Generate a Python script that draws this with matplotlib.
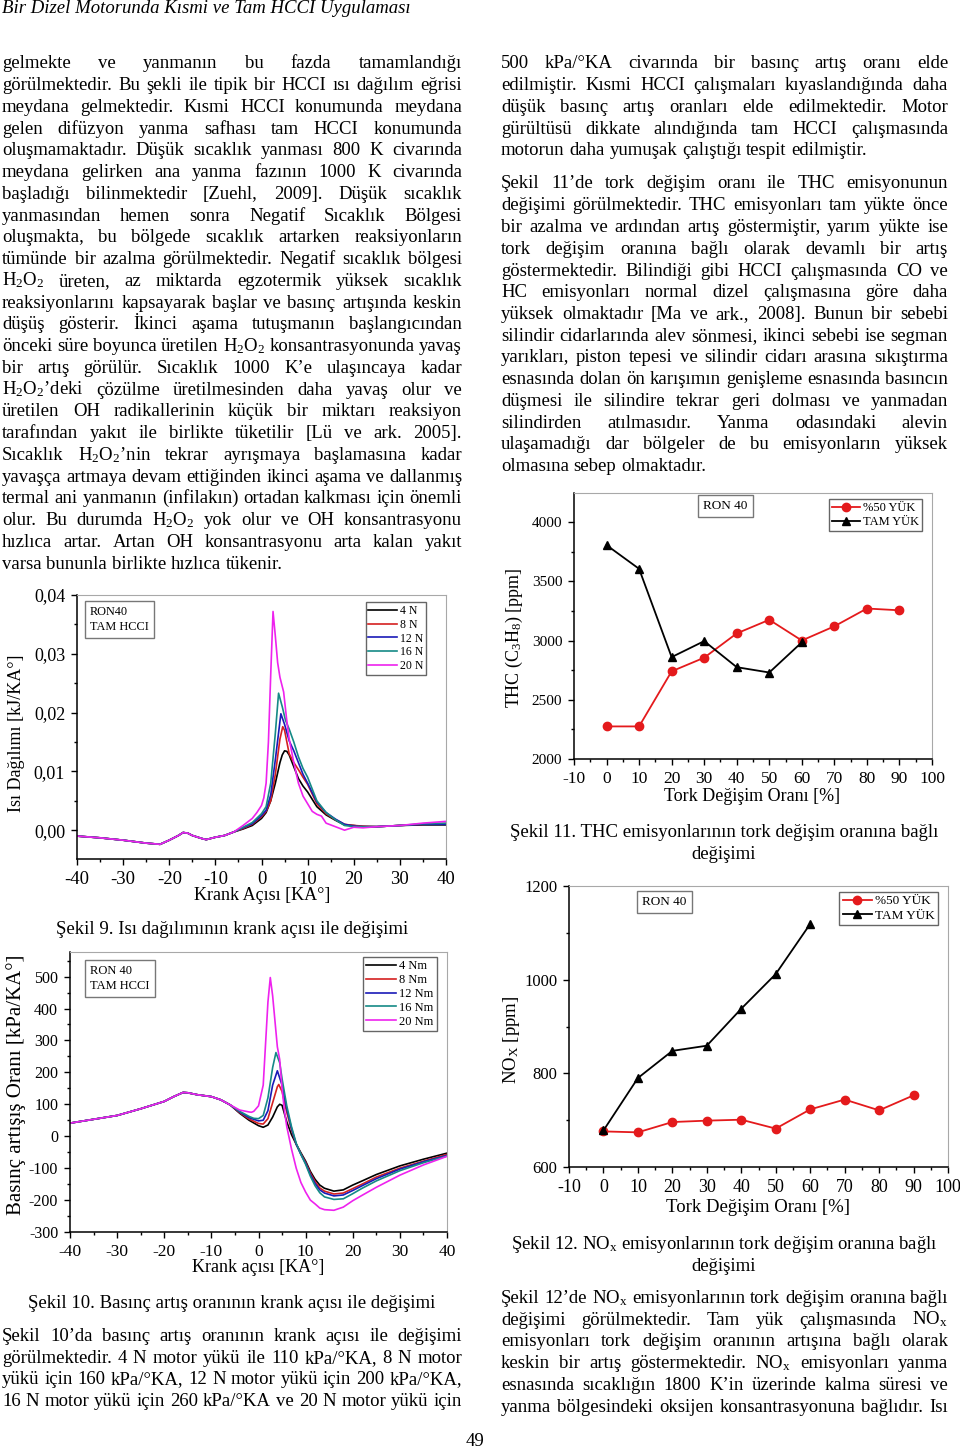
import numpy as np
import matplotlib
matplotlib.use('Agg')
import matplotlib.pyplot as plt
from matplotlib.ticker import MultipleLocator, FuncFormatter

plt.rcParams['font.family'] = ['Liberation Serif', 'DejaVu Serif']
plt.rcParams['axes.unicode_minus'] = False
plt.rcParams['mathtext.fontset'] = 'custom'
plt.rcParams['mathtext.rm'] = 'Liberation Serif'
plt.rcParams['mathtext.it'] = 'Liberation Serif:italic'
plt.rcParams['mathtext.bf'] = 'Liberation Serif:bold'

# ---------------- Şekil 9: ısı dağılımı [x1e-3 kJ/KA°] ----------------
pre_ang = [-40, -35, -30, -25, -22, -20, -18, -17, -16, -15, -13, -12, -10, -8, -6]
pre_q = [-1.0, -1.3, -1.7, -2.2, -2.4, -1.7, -0.9, -0.4, -0.5, -0.9, -1.4, -1.6, -1.2, -0.9, -0.3]

ang_4 = [-4, -2, 0, 1, 2, 3, 4, 4.5, 5, 5.5, 6, 7, 8, 9, 10, 12, 14, 16, 18, 20, 22, 25, 30, 35, 40]
q_4 = [0.2, 0.8, 2.0, 3.0, 5.0, 8.0, 11.5, 12.8, 13.5, 13.4, 12.8, 10.8, 8.8, 7.5, 6.5, 4.0, 2.6, 1.7, 0.9, 0.8, 0.6, 0.6, 0.8, 0.9, 0.9]
ang_8 = [-4, -2, 0, 1, 2, 3, 4, 4.6, 5, 6, 7, 8, 9, 10, 12, 14, 16, 18, 20, 22, 25, 30, 35, 40]
q_8 = [0.3, 1.0, 2.3, 3.2, 5.0, 9.5, 15.5, 17.6, 17.0, 13.0, 11.5, 10.3, 9.0, 7.8, 4.5, 2.8, 1.8, 1.0, 0.8, 0.7, 0.6, 0.8, 1.0, 1.1]
ang_12 = [-4, -2, 0, 1, 2, 3, 4.2, 5, 6, 7, 8, 9, 10, 12, 14, 16, 18, 20, 22, 25, 30, 35, 40]
q_12 = [0.4, 1.1, 2.5, 3.4, 6.0, 12.0, 19.8, 18.0, 15.2, 13.5, 11.5, 9.5, 8.0, 4.8, 3.0, 1.9, 1.0, 0.7, 0.6, 0.6, 0.8, 1.0, 1.0]
ang_16 = [-4, -2, 0, 1, 2, 3, 3.7, 4.5, 5.2, 6, 7, 8, 9, 10, 12, 14, 16, 18, 20, 22, 25, 30, 35, 40]
q_16 = [0.5, 1.3, 2.8, 4.0, 8.0, 16.5, 23.3, 21.0, 18.7, 17.2, 15.0, 12.5, 10.5, 9.0, 5.0, 3.0, 1.8, 0.8, 0.6, 0.6, 0.6, 0.8, 1.1, 1.2]
ang_20 = [-4, -2, -1, 0, 0.5, 1, 1.5, 2, 2.5, 3, 3.5, 4, 4.8, 5.5, 6, 7, 8, 9, 10, 11, 12, 13, 14, 16, 18, 20, 22, 25, 30, 35, 40]
q_20 = [0.8, 2.0, 3.0, 4.2, 5.5, 8.0, 15.0, 26.5, 37.2, 33.0, 28.5, 26.0, 23.5, 18.5, 15.5, 11.5, 8.0, 5.8, 4.5, 3.2, 2.7, 2.4, 1.2, 0.6, 0.0, 0.5, 0.4, 0.6, 0.8, 1.2, 1.5]

# ---------------- Şekil 10: basınç artış oranı [kPa/KA°] ----------------
pre_ang2 = [-40, -35, -30, -25, -20, -18, -16, -15, -13, -10, -8, -6]
pre_p = [41, 53, 65, 86, 109, 124, 137, 136, 130, 124, 114, 98]

pang_4 = [-4, -2, 0, 1, 2, 3, 4, 4.5, 5, 6, 7, 8, 9, 10, 11, 12, 13, 14, 16, 18, 20, 22, 25, 30, 35, 40]
p_4 = [72, 50, 33, 28, 35, 60, 92, 100, 97, 45, 5, -25, -52, -78, -110, -135, -153, -163, -172, -168, -153, -140, -120, -93, -72, -53]
pang_8 = [-4, -2, 0, 1, 2, 3, 4, 4.3, 5, 6, 7, 8, 9, 10, 11, 12, 13, 14, 16, 18, 20, 22, 25, 30, 35, 40]
p_8 = [74, 54, 40, 38, 55, 105, 155, 162, 140, 75, 20, -25, -55, -82, -115, -142, -162, -172, -181, -178, -164, -150, -128, -100, -78, -57]
pang_12 = [-4, -2, 0, 1, 2, 3, 4, 5, 6, 7, 8, 9, 10, 11, 12, 13, 14, 16, 18, 20, 22, 25, 30, 35, 40]
p_12 = [76, 58, 48, 50, 80, 160, 205, 160, 85, 25, -25, -57, -85, -120, -148, -168, -178, -187, -184, -170, -155, -133, -103, -80, -60]
pang_16 = [-4, -2, -1, 0, 1, 2, 3, 3.7, 4.5, 5, 6, 7, 8, 9, 10, 11, 12, 13, 14, 16, 18, 20, 22, 25, 30, 35, 40]
p_16 = [78, 62, 56, 55, 65, 120, 215, 262, 230, 180, 95, 30, -22, -57, -88, -125, -155, -177, -190, -198, -196, -180, -163, -140, -108, -83, -62]
pang_20 = [-4, -2, -1.5, -1, 0, 1, 1.5, 2, 2.5, 3, 3.5, 4, 4.5, 5, 5.5, 6, 7, 8, 9, 10, 11, 12, 13, 14, 16, 18, 20, 22, 25, 30, 35, 40]
p_20 = [82, 76, 75, 78, 95, 160, 290, 420, 497, 440, 360, 280, 240, 150, 80, 30, -40, -100, -145, -175, -200, -212, -225, -230, -232, -222, -202, -185, -160, -122, -90, -63]

# ---------------- Şekil 11 / 12 ----------------
torque = [0, 10, 20, 30, 40, 50, 60, 70, 80, 90]
torque_full = [0, 10, 20, 30, 40, 50, 60]
thc_half = [2275, 2275, 2740, 2855, 3060, 3175, 3000, 3120, 3270, 3255]
thc_full = [3805, 3605, 2860, 2995, 2775, 2730, 2985]
nox_half = [676, 674, 696, 699, 701, 682, 723, 744, 721, 753]
nox_full = [678, 790, 848, 859, 938, 1012, 1119]

load_labels_N = ['4 N', '8 N', '12 N', '16 N', '20 N']
load_labels_Nm = ['4 Nm', '8 Nm', '12 Nm', '16 Nm', '20 Nm']
colors = ['#000000', '#d42020', '#1a1ab8', '#158a86', '#ee22ee']

# ---------------- metin ----------------
left_col = [
    "gelmekte ve yanmanın bu fazda tamamlandığı",
    "görülmektedir. Bu şekli ile tipik bir HCCI ısı dağılım eğrisi",
    "meydana gelmektedir. Kısmi HCCI konumunda meydana",
    "gelen difüzyon yanma safhası tam HCCI konumunda",
    "oluşmamaktadır. Düşük sıcaklık yanması 800 K civarında",
    "meydana gelirken ana yanma fazının 1000 K civarında",
    "başladığı bilinmektedir [Zuehl, 2009]. Düşük sıcaklık",
    "yanmasından hemen sonra Negatif Sıcaklık Bölgesi",
    "oluşmakta, bu bölgede sıcaklık artarken reaksiyonların",
    "tümünde bir azalma görülmektedir. Negatif sıcaklık bölgesi",
    "H$_2$O$_2$ üreten, az miktarda egzotermik yüksek sıcaklık",
    "reaksiyonlarını kapsayarak başlar ve basınç artışında keskin",
    "düşüş gösterir. İkinci aşama tutuşmanın başlangıcından",
    "önceki süre boyunca üretilen H$_2$O$_2$ konsantrasyonunda yavaş",
    "bir artış görülür. Sıcaklık 1000 K’e ulaşıncaya kadar",
    "H$_2$O$_2$’deki çözülme üretilmesinden daha yavaş olur ve",
    "üretilen OH radikallerinin küçük bir miktarı reaksiyon",
    "tarafından yakıt ile birlikte tüketilir [Lü ve ark. 2005].",
    "Sıcaklık H$_2$O$_2$’nin tekrar ayrışmaya başlamasına kadar",
    "yavaşça artmaya devam ettiğinden ikinci aşama ve dallanmış",
    "termal ani yanmanın (infilakın) ortadan kalkması için önemli",
    "olur. Bu durumda H$_2$O$_2$ yok olur ve OH konsantrasyonu",
    "hızlıca artar. Artan OH konsantrasyonu arta kalan yakıt",
    "varsa bununla birlikte hızlıca tükenir.",
]
right_p1 = [
    "500 kPa/°KA civarında bir basınç artış oranı elde",
    "edilmiştir. Kısmi HCCI çalışmaları kıyaslandığında daha",
    "düşük basınç artış oranları elde edilmektedir. Motor",
    "gürültüsü dikkate alındığında tam HCCI çalışmasında",
    "motorun daha yumuşak çalıştığı tespit edilmiştir.",
]
right_p2 = [
    "Şekil 11’de tork değişim oranı ile THC emisyonunun",
    "değişimi görülmektedir. THC emisyonları tam yükte önce",
    "bir azalma ve ardından artış göstermiştir, yarım yükte ise",
    "tork değişim oranına bağlı olarak devamlı bir artış",
    "göstermektedir. Bilindiği gibi HCCI çalışmasında CO ve",
    "HC emisyonları normal dizel çalışmasına göre daha",
    "yüksek olmaktadır [Ma ve ark., 2008]. Bunun bir sebebi",
    "silindir cidarlarında alev sönmesi, ikinci sebebi ise segman",
    "yarıkları, piston tepesi ve silindir cidarı arasına sıkıştırma",
    "esnasında dolan ön karışımın genişleme esnasında basıncın",
    "düşmesi ile silindire tekrar geri dolması ve yanmadan",
    "silindirden atılmasıdır. Yanma odasındaki alevin",
    "ulaşamadığı dar bölgeler de bu emisyonların yüksek",
    "olmasına sebep olmaktadır.",
]
bottom_left = [
    "Şekil 10’da basınç artış oranının krank açısı ile değişimi",
    "görülmektedir. 4 N motor yükü ile 110 kPa/°KA, 8 N motor",
    "yükü için 160 kPa/°KA, 12 N motor yükü için 200 kPa/°KA,",
    "16 N motor yükü için 260 kPa/°KA ve 20 N motor yükü için",
]
bottom_right = [
    r"Şekil 12’de NO$_\mathrm{x}$ emisyonlarının tork değişim oranına bağlı",
    r"değişimi görülmektedir. Tam yük çalışmasında NO$_\mathrm{x}$",
    "emisyonları tork değişim oranının artışına bağlı olarak",
    r"keskin bir artış göstermektedir. NO$_\mathrm{x}$ emisyonları yanma",
    "esnasında sıcaklığın 1800 K’in üzerinde kalma süresi ve",
    "yanma bölgesindeki oksijen konsantrasyonuna bağlıdır. Isı",
]

W, H = 960, 1449
fig = plt.figure(figsize=(9.6, 14.49), dpi=100)
renderer = fig.canvas.get_renderer()
BODY = 13.5


def fx(x):
    return x / W


def fy(y):
    return 1 - y / H


def axes_px(l, t, r, b):
    return fig.add_axes([l / W, 1 - b / H, (r - l) / W, (b - t) / H])


def justify(line, x0, x1, y, last=False, size=BODY):
    words = line.split()
    objs = [fig.text(0, fy(y), w, fontsize=size, va='baseline', ha='left') for w in words]
    widths = [o.get_window_extent(renderer).width for o in objs]
    if last or len(words) == 1:
        gap = size * 100 / 72 * 0.25
    else:
        gap = (x1 - x0 - sum(widths)) / (len(words) - 1)
    x = x0
    for o, w in zip(objs, widths):
        o.set_x(fx(x))
        x += w + gap


def paragraph(lines, x0, x1, y0, step=21.75, last_free=True):
    for i, ln in enumerate(lines):
        justify(ln, x0, x1, y0 + i * step, last=(last_free and i == len(lines) - 1))


def style(ax, xmaj, xmin, ymaj, ymin, xsize, ysize):
    for s in ['top', 'right']:
        ax.spines[s].set_color('#a8a8a8')
    for s in ['left', 'bottom']:
        ax.spines[s].set_linewidth(1.1)
    ax.xaxis.set_major_locator(MultipleLocator(xmaj))
    ax.xaxis.set_minor_locator(MultipleLocator(xmin))
    ax.yaxis.set_major_locator(MultipleLocator(ymaj))
    ax.yaxis.set_minor_locator(MultipleLocator(ymin))
    ax.tick_params(which='both', direction='out', top=False, right=False, width=1.0)
    ax.tick_params(axis='x', labelsize=xsize)
    ax.tick_params(axis='y', labelsize=ysize)
    ax.tick_params(which='major', length=4.5, pad=4)
    ax.tick_params(which='minor', length=2.5)


def legend(ax, handles, labels, xr, yt, size, hl=2.4):
    lg = ax.legend(handles, labels, loc='upper right', bbox_to_anchor=(xr, yt),
                   borderaxespad=0, fontsize=size, fancybox=False, framealpha=1,
                   edgecolor='#666666', borderpad=0.25, labelspacing=0.15,
                   handlelength=hl, handletextpad=0.25)
    lg.get_frame().set_linewidth(1.0)


def boxtext(x, y, s, size):
    fig.text(fx(x), fy(y), s, fontsize=size, va='top', ha='left', linespacing=1.3,
             bbox=dict(boxstyle='square,pad=0.4', fc='white', ec='#777777', lw=1.0))


# header & body text
fig.text(fx(2), fy(13), 'Bir Dizel Motorunda Kısmi ve Tam HCCI Uygulaması',
         fontsize=13.5, style='italic', va='baseline', ha='left')
paragraph(left_col, 2, 462, 68.3)
paragraph(right_p1, 501, 948, 68.3)
paragraph(right_p2, 501, 948, 188.5)
paragraph(bottom_left, 2, 462, 1341, last_free=False)
paragraph(bottom_right, 501, 948, 1303, last_free=False)
fig.text(fx(475), fy(1446), '49', fontsize=BODY, ha='center', va='baseline')

# ---------------- Şekil 9 ----------------
ax1 = axes_px(77, 595, 446, 859)
series9 = [(ang_4, q_4), (ang_8, q_8), (ang_12, q_12), (ang_16, q_16), (ang_20, q_20)]
h1 = []
for (a, q), c in zip(series9, colors):
    ln, = ax1.plot(pre_ang + a, np.array(pre_q + q) * 1e-3, color=c, lw=1.2)
    h1.append(ln)
ax1.set_xlim(-40, 40)
ax1.set_ylim(-0.0049, 0.04)
style(ax1, 10, 5, 0.01, 0.005, 13.5, 13)
ax1.yaxis.set_major_formatter(FuncFormatter(lambda v, p: f'{v:.2f}'.replace('.', ',') if v > -0.001 else ''))
legend(ax1, h1, load_labels_N, 0.946, 0.973, 8.5)
boxtext(90, 606, 'RON40\nTAM HCCI', 8.8)
fig.text(fx(17), fy(733), 'Isı Dağılımı [kJ/KA°]', rotation=90, fontsize=13, ha='center', va='center')
fig.text(fx(262), fy(895), 'Krank Açısı [KA°]', fontsize=13, ha='center', va='center')
fig.text(fx(232), fy(934), 'Şekil 9. Isı dağılımının krank açısı ile değişimi',
         fontsize=BODY, ha='center', va='baseline')

# ---------------- Şekil 10 ----------------
ax2 = axes_px(70, 952, 447, 1232)
series10 = [(pang_4, p_4), (pang_8, p_8), (pang_12, p_12), (pang_16, p_16), (pang_20, p_20)]
h2 = []
for (a, p), c in zip(series10, colors):
    ln, = ax2.plot(pre_ang2 + a, pre_p + p, color=c, lw=1.2)
    h2.append(ln)
ax2.set_xlim(-40, 40)
ax2.set_ylim(-300, 577)
style(ax2, 10, 5, 100, 50, 12.5, 11.5)
ax2.set_yticks([-300, -200, -100, 0, 100, 200, 300, 400, 500])
legend(ax2, h2, load_labels_Nm, 0.973, 0.982, 9)
boxtext(90, 965, 'RON 40\nTAM HCCI', 9)
fig.text(fx(16), fy(1085), 'Basınç artışış Oranı [kPa/KA°]', rotation=90, fontsize=15,
         ha='center', va='center')
fig.text(fx(258), fy(1268), 'Krank açısı [KA°]', fontsize=13, ha='center', va='center')
fig.text(fx(232), fy(1308), 'Şekil 10. Basınç artış oranının krank açısı ile değişimi',
         fontsize=BODY, ha='center', va='baseline')

# ---------------- Şekil 11 ----------------
ax3 = axes_px(574, 493, 932, 759)
l3a, = ax3.plot(torque, thc_half, color='#e41a1c', lw=1.3, marker='o', ms=6)
l3b, = ax3.plot(torque_full, thc_full, color='#000000', lw=1.3, marker='^', ms=6)
ax3.set_xlim(-10, 100)
ax3.set_ylim(2000, 4245)
style(ax3, 10, 5, 500, 250, 12.5, 11)
legend(ax3, [l3a, l3b], ['%50 YÜK', 'TAM YÜK'], 0.972, 0.977, 9, hl=2.2)
boxtext(703, 500, 'RON 40', 9.5)
fig.text(fx(514), fy(638), r'THC (C$_3$H$_8$) [ppm]', rotation=90, fontsize=13,
         ha='center', va='center')
fig.text(fx(752), fy(797), 'Tork Değişim Oranı [%]', fontsize=13, ha='center', va='center')
fig.text(fx(724), fy(837), 'Şekil 11. THC emisyonlarının tork değişim oranına bağlı',
         fontsize=BODY, ha='center', va='baseline')
fig.text(fx(724), fy(859), 'değişimi', fontsize=BODY, ha='center', va='baseline')

# ---------------- Şekil 12 ----------------
ax4 = axes_px(569, 886, 948, 1167)
l4a, = ax4.plot(torque, nox_half, color='#e41a1c', lw=1.3, marker='o', ms=6)
l4b, = ax4.plot(torque_full, nox_full, color='#000000', lw=1.3, marker='^', ms=6)
ax4.set_xlim(-10, 100)
ax4.set_ylim(600, 1200)
style(ax4, 10, 5, 200, 100, 13, 12)
legend(ax4, [l4a, l4b], ['%50 YÜK', 'TAM YÜK'], 0.974, 0.979, 9.5, hl=2.2)
boxtext(642, 896, 'RON 40', 9.5)
fig.text(fx(512), fy(1040), r'NO$_\mathrm{X}$ [ppm]', rotation=90, fontsize=13.5,
         ha='center', va='center')
fig.text(fx(758), fy(1208), 'Tork Değişim Oranı [%]', fontsize=13.5, ha='center', va='center')
fig.text(fx(724), fy(1249), r'Şekil 12. NO$_\mathrm{x}$ emisyonlarının tork değişim oranına bağlı',
         fontsize=BODY, ha='center', va='baseline')
fig.text(fx(724), fy(1271), 'değişimi', fontsize=BODY, ha='center', va='baseline')

fig.savefig('out.png', dpi=100)
